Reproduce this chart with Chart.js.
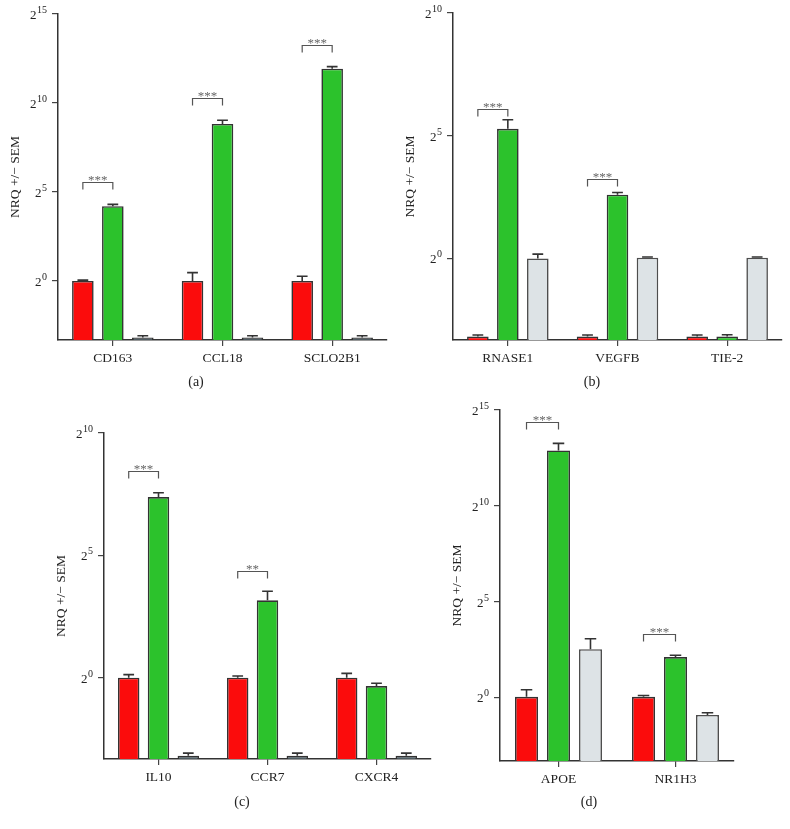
<!DOCTYPE html>
<html>
<head>
<meta charset="utf-8">
<script src="https://cdn.jsdelivr.net/npm/chart.js@4.4.1/dist/chart.umd.min.js"></script>
<style>
  body { margin: 0; background: #fff; width: 790px; height: 829px; position: relative; overflow: hidden; }
  canvas { position: absolute; }
</style>
</head>
<body>
<canvas id="pa" width="395" height="400" style="left:0;top:0"></canvas>
<canvas id="pb" width="395" height="400" style="left:395px;top:0"></canvas>
<canvas id="pc" width="460" height="429" style="left:0;top:400px"></canvas>
<canvas id="pd" width="395" height="429" style="left:395px;top:400px"></canvas>
<script>
// (a)
const catsA = ['CD163', 'CCL18', 'SCLO2B1'];
const redA = [1.0, 1.0, 1.0];
const redErrA = [1.03, 1.38, 1.2];
const greenA = [18.4, 452, 3900];
const greenErrA = [19.7, 523, 4210];
const darkA = [0.11, 0.11, 0.11];
const darkErrA = [0.118, 0.118, 0.118];
const sigA = [48, 1260, 9940];
const sigTextA = ['***', '***', '***'];
const yExpA = [0, 5, 10, 15];

// (b)
const catsB = ['RNASE1', 'VEGFB', 'TIE-2'];
const redB = [0.11, 0.11, 0.11];
const redErrB = [0.115, 0.115, 0.115];
const greenB = [38.9, 6.06, 0.11];
const greenErrB = [50.2, 6.45, 0.116];
const lightB = [1.0, 1.02, 1.02];
const lightErrB = [1.13, 1.04, 1.04];
const sigB = [69, 9.3, null];
const sigTextB = ['***', '***', ''];
const yExpB = [0, 5, 10];

// (c)
const catsC = ['IL10', 'CCR7', 'CXCR4'];
const redC = [1.0, 1.0, 1.0];
const redErrC = [1.09, 1.05, 1.13];
const greenC = [166.6, 8.94, 0.79];
const greenErrC = [188.7, 11.6, 0.853];
const darkC = [0.11, 0.11, 0.11];
const darkErrC = [0.118, 0.118, 0.118];
const sigC = [345, 20.5, null];
const sigTextC = ['***', '**', ''];
const yExpC = [0, 5, 10];

// (d)
const catsD = ['APOE', 'NR1H3'];
const redD = [1.02, 1.02];
const redErrD = [1.32, 1.07];
const greenD = [7590, 4.29];
const greenErrD = [9810, 4.6];
const lightD = [5.7, 0.53];
const lightErrD = [8.34, 0.574];
const sigD = [21500, 9.8];
const sigTextD = ['***', '***'];
const yExpD = [0, 5, 10, 15];

const SERIF = '"Liberation Serif", "DejaVu Serif", serif';
const RED = '#fb0c0c', GREEN = '#2cc22c', DARK = '#4f5d63', LIGHT = '#dde3e6';

const extras = {
  id: 'extras',
  afterDatasetsDraw(chart, args, o) {
    const ctx = chart.ctx, y = chart.scales.y, area = chart.chartArea;
    ctx.save();

    // error bars (upper only)
    chart.data.datasets.forEach((ds, i) => {
      chart.getDatasetMeta(i).data.forEach((bar, j) => {
        const top = y.getPixelForValue(ds.err[j]);
        const h = bar.width / 4;
        ctx.strokeStyle = '#333';
        ctx.lineWidth = 1.6;
        ctx.beginPath();
        ctx.moveTo(bar.x, bar.y);
        ctx.lineTo(bar.x, top);
        ctx.moveTo(bar.x - h, top);
        ctx.lineTo(bar.x + h, top);
        ctx.stroke();
      });
    });

    // significance brackets between first and second bar
    const m0 = chart.getDatasetMeta(0).data, m1 = chart.getDatasetMeta(1).data;
    o.sig.forEach((v, j) => {
      if (v == null) return;
      const yy = Math.round(y.getPixelForValue(v)) + 0.5;
      const x0 = m0[j].x, x1 = m1[j].x;
      ctx.strokeStyle = '#555';
      ctx.lineWidth = 1.2;
      ctx.beginPath();
      ctx.moveTo(x0, yy + 7);
      ctx.lineTo(x0, yy);
      ctx.lineTo(x1, yy);
      ctx.lineTo(x1, yy + 7);
      ctx.stroke();
      ctx.fillStyle = '#666';
      ctx.font = '13px ' + SERIF;
      ctx.textAlign = 'center';
      ctx.textBaseline = 'alphabetic';
      ctx.fillText(o.sigText[j], (x0 + x1) / 2, yy + 1);
    });

    // y tick labels 2^n
    ctx.fillStyle = '#222';
    ctx.textBaseline = 'alphabetic';
    o.exps.forEach(e => {
      const py = y.getPixelForValue(2 ** e);
      const right = area.left - 11;
      ctx.font = '10px ' + SERIF;
      const ew = ctx.measureText(String(e)).width;
      ctx.textAlign = 'left';
      ctx.fillText(String(e), right - ew, py - 1);
      ctx.font = '13px ' + SERIF;
      ctx.textAlign = 'right';
      ctx.fillText('2', right - ew - 0.5, py + 5);
    });

    // y title
    ctx.save();
    ctx.translate(area.left - 43, (area.top + area.bottom) / 2);
    ctx.rotate(-Math.PI / 2);
    ctx.font = '13.5px ' + SERIF;
    ctx.textAlign = 'center';
    ctx.textBaseline = 'middle';
    ctx.fillText('NRQ +/\u2212 SEM', 0, 0);
    ctx.restore();

    // panel letter
    ctx.font = '14px ' + SERIF;
    ctx.textAlign = 'center';
    ctx.textBaseline = 'middle';
    ctx.fillText(o.letter, o.letterX, o.letterY);
    ctx.restore();
  }
};

function makePanel(id, cats, series, exps, yMax, sig, sigText, box, letter) {
  const canvas = document.getElementById(id);
  const W = canvas.width, H = canvas.height;
  return new Chart(canvas, {
    type: 'bar',
    data: {
      labels: cats,
      datasets: series.map(s => ({
        data: s.data,
        err: s.err,
        backgroundColor: s.color,
        borderColor: s.border || '#333',
        borderWidth: 1.6,
        categoryPercentage: 0.82,
        barPercentage: 0.72
      }))
    },
    options: {
      responsive: false,
      animation: false,
      events: [],
      layout: { padding: { left: 0, top: box.top, right: W - box.right, bottom: 0 } },
      plugins: {
        legend: { display: false },
        tooltip: { enabled: false },
        extras: { sig, sigText, exps, letter: letter[0], letterX: letter[1], letterY: letter[2] }
      },
      scales: {
        x: {
          type: 'category',
          offset: true,
          grid: { offset: false, drawOnChartArea: false, tickLength: 6, color: '#444', lineWidth: 1.2 },
          border: { color: '#333', width: 1.5 },
          ticks: { color: '#222', font: { family: SERIF, size: 13.5 }, padding: 4, maxRotation: 0, autoSkip: false },
          afterFit: s => { s.height = H - box.bottom; }
        },
        y: {
          type: 'logarithmic',
          position: 'left',
          min: 0.1,
          max: yMax,
          bounds: 'data',
          afterBuildTicks: s => { s.ticks = exps.map(e => ({ value: 2 ** e })); },
          grid: { drawOnChartArea: false, tickLength: 6, color: '#444', lineWidth: 1.2 },
          border: { color: '#333', width: 1.5 },
          ticks: { display: false },
          afterFit: s => { s.width = box.left; }
        }
      }
    },
    plugins: [extras]
  });
}

makePanel('pa', catsA, [
  { data: redA, err: redErrA, color: RED },
  { data: greenA, err: greenErrA, color: GREEN },
  { data: darkA, err: darkErrA, color: DARK }
], yExpA, 2 ** 15, sigA, sigTextA, { left: 58, top: 14, right: 387, bottom: 340 }, ['(a)', 196, 382]);

makePanel('pb', catsB, [
  { data: redB, err: redErrB, color: RED },
  { data: greenB, err: greenErrB, color: GREEN },
  { data: lightB, err: lightErrB, color: LIGHT, border: '#4d4d4d' }
], yExpB, 2 ** 10, sigB, sigTextB, { left: 58, top: 13, right: 387, bottom: 340 }, ['(b)', 197, 382]);

makePanel('pc', catsC, [
  { data: redC, err: redErrC, color: RED },
  { data: greenC, err: greenErrC, color: GREEN },
  { data: darkC, err: darkErrC, color: DARK }
], yExpC, 2 ** 10, sigC, sigTextC, { left: 104, top: 33, right: 431, bottom: 359 }, ['(c)', 242, 402]);

makePanel('pd', catsD, [
  { data: redD, err: redErrD, color: RED },
  { data: greenD, err: greenErrD, color: GREEN },
  { data: lightD, err: lightErrD, color: LIGHT, border: '#4d4d4d' }
], yExpD, 2 ** 15, sigD, sigTextD, { left: 105, top: 10, right: 339, bottom: 361 }, ['(d)', 194, 402]);
</script>
</body>
</html>
